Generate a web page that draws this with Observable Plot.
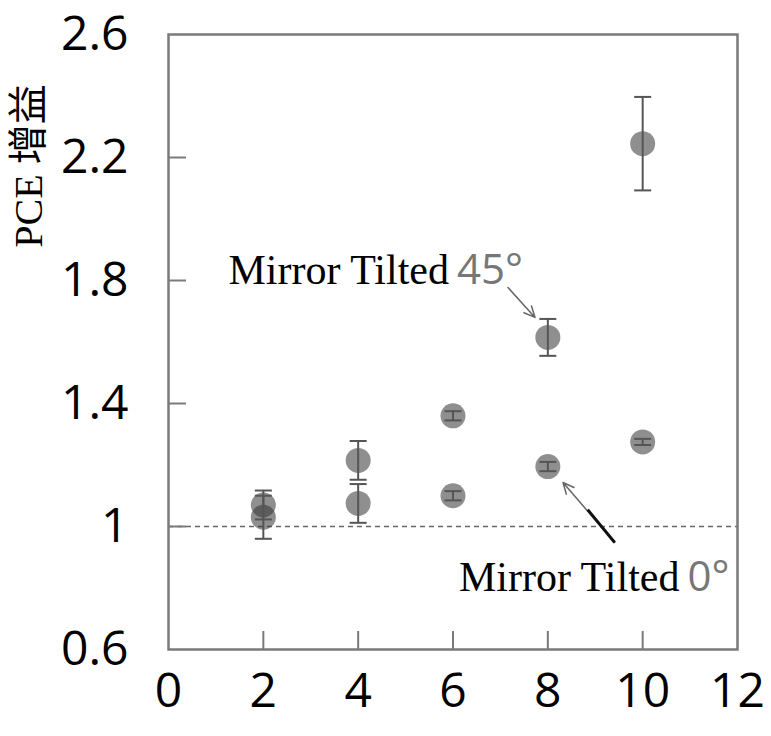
<!DOCTYPE html>
<html>
<head>
<meta charset="utf-8">
<script src="https://cdn.jsdelivr.net/npm/d3@7"></script>
<script src="https://cdn.jsdelivr.net/npm/@observablehq/plot@0.6"></script>
<style>
  html, body { margin: 0; padding: 0; background: #fff; }
</style>
</head>
<body>
<div id="chart"></div>
<script>
// ---- data ----
const xs = [2, 4, 6, 8, 10];
const gain45 = [1.07, 1.215, 1.36, 1.615, 2.245];
const err45 = [0.047, 0.063, 0.015, 0.06, 0.152];
const gain0 = [1.03, 1.075, 1.10, 1.195, 1.275];
const err0 = [0.07, 0.063, 0.015, 0.015, 0.01];

const xTickValues = [0, 2, 4, 6, 8, 10, 12];
const xTickLabels = ["0", "2", "4", "6", "8", "10", "12"];
const xInnerTicks = [2, 4, 6, 8, 10];
const yTickValues = [0.6, 1, 1.4, 1.8, 2.2, 2.6];
const yTickLabels = ["0.6", "1", "1.4", "1.8", "2.2", "2.6"];
const yInnerTicks = [1, 1.4, 1.8, 2.2];
const baseline = [1];

const yLabel = "PCE 增益";
const annoMain = ["Mirror Tilted", "Mirror Tilted"];
const annoAngle = ["45°", "0°"];
const annoX = [6.0, 10.86];
const annoY = [1.787, 0.789];
// arrows: [x1, y1, x2, y2]
const arrow45 = [7.16, 1.777, 7.73, 1.68];
const arrow0 = [9.41, 0.948, 8.32, 1.143];
const arrow0Dark = [9.41, 0.948, 8.84, 1.055];

// ---- tables ----
const points = [
  ...xs.map((x, i) => ({x, y: gain45[i], e: err45[i], s: "45"})),
  ...xs.map((x, i) => ({x, y: gain0[i], e: err0[i], s: "0"}))
];
const annos = annoMain.map((t, i) => ({t, a: annoAngle[i], x: annoX[i], y: annoY[i]}));
const arrows = [arrow45, arrow0].map(a => ({x1: a[0], y1: a[1], x2: a[2], y2: a[3]}));
const darkSeg = [arrow0Dark].map(a => ({x1: a[0], y1: a[1], x2: a[2], y2: a[3]}));

const capSymbol = {
  draw(context, size) {
    const r = Math.sqrt(size / Math.PI);
    context.moveTo(-r, 0);
    context.lineTo(r, 0);
  }
};

const sans = "'Open Sans', 'DejaVu Sans', sans-serif";
const serif = "'Liberation Serif', 'Noto Sans CJK SC', serif";
const frameColor = "#7a7a7a";

const chart = Plot.plot({
  width: 771,
  height: 736,
  marginTop: 34,
  marginRight: 34,
  marginBottom: 87,
  marginLeft: 168,
  style: {fontFamily: sans, background: "#fff", color: "#000"},
  x: {domain: [0, 12], label: null},
  y: {domain: [0.6, 2.6], label: null},
  marks: [
    Plot.ruleY(baseline, {stroke: "#666", strokeWidth: 1.5, strokeDasharray: "5,4"}),
    Plot.dot(points, {x: "x", y: "y", r: 12.5, fill: "#333", fillOpacity: 0.55, stroke: "none"}),
    Plot.ruleX(points, {x: "x", y1: d => d.y - d.e, y2: d => d.y + d.e, stroke: "#555", strokeWidth: 2}),
    Plot.dot(points, {x: "x", y: d => d.y + d.e, r: 8.5, symbol: capSymbol, fill: "none", stroke: "#555", strokeWidth: 2}),
    Plot.dot(points, {x: "x", y: d => d.y - d.e, r: 8.5, symbol: capSymbol, fill: "none", stroke: "#555", strokeWidth: 2}),
    Plot.arrow(arrows, {x1: "x1", y1: "y1", x2: "x2", y2: "y2", stroke: "#666", strokeWidth: 1.5, headLength: 12, headAngle: 50}),
    Plot.link(darkSeg, {x1: "x1", y1: "y1", x2: "x2", y2: "y2", stroke: "#111", strokeWidth: 3}),
    Plot.text(annos, {x: "x", y: "y", text: "t", textAnchor: "end", lineAnchor: "bottom", dx: -4, fontFamily: serif, fontSize: 42, fill: "#000"}),
    Plot.text(annos, {x: "x", y: "y", text: "a", textAnchor: "start", lineAnchor: "bottom", dx: 4, fontFamily: sans, fontSize: 42, fill: "#777"}),
    Plot.text([yLabel], {text: d => d, frameAnchor: "left", rotate: -90, dx: -139, dy: -176, fontFamily: serif, fontSize: 40, fill: "#000", lineAnchor: "middle", textAnchor: "middle"}),
    Plot.axisY({ticks: yTickValues, tickSize: 0, tickPadding: 40, tickFormat: (d, i) => yTickLabels[yTickValues.indexOf(d)], fontSize: 48, fill: "#000", label: null}),
    Plot.axisX({ticks: xTickValues, tickSize: 0, tickPadding: 23, tickFormat: (d) => xTickLabels[xTickValues.indexOf(d)], fontSize: 48, fill: "#000", label: null}),
    Plot.axisY({ticks: yInnerTicks, tickSize: -18, tickFormat: () => "", stroke: frameColor, strokeWidth: 2, label: null}),
    Plot.axisX({ticks: xInnerTicks, tickSize: -18, tickFormat: () => "", stroke: frameColor, strokeWidth: 2, label: null}),
    Plot.frame({stroke: frameColor, strokeWidth: 2.5})
  ]
});
document.getElementById("chart").appendChild(chart);
</script>
</body>
</html>
